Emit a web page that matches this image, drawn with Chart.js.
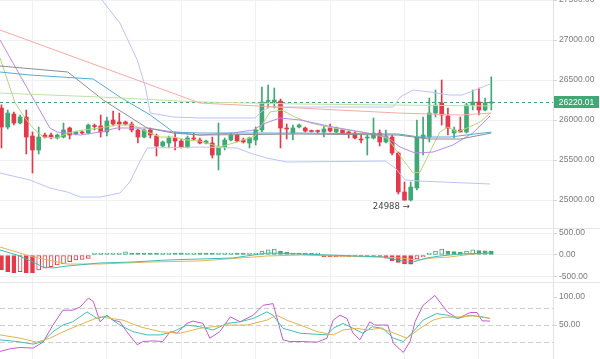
<!DOCTYPE html>
<html><head><meta charset="utf-8">
<script src="https://cdn.jsdelivr.net/npm/chart.js@4.4.1/dist/chart.umd.min.js"></script>
<style>
html,body{margin:0;padding:0;background:#fff;width:600px;height:359px;overflow:hidden;position:relative}
.pane{position:absolute;left:0;width:600px}
.sep{position:absolute;left:0;width:600px;height:1px;background:#e4e6ea}
</style></head><body>
<div class="pane" style="top:0;height:228px"><canvas id="main" width="600" height="228"></canvas></div>
<div class="sep" style="top:228px"></div>
<div class="pane" style="top:229px;height:53px"><canvas id="macd" width="600" height="53"></canvas></div>
<div class="sep" style="top:282px"></div>
<div class="pane" style="top:283px;height:76px"><canvas id="kdj" width="600" height="76"></canvas></div>
<script>
// ---------- candle data (index 0..79) ----------
const opens  = [26150,25912,26075,25962,26037,25800,25625,25812,25812,25775,25787,25900,25825,25850,25837,25931,25925,25850,26000,25975,25975,25950,25875,25787,25875,25800,25675,25712,25775,25737,25662,25775,25750,25712,25712,25562,25662,25750,25812,25750,25712,25750,25875,26231,26225,26237,25893,25837,25912,25900,25862,25862,25850,25900,25850,25875,25850,25837,25762,25775,25775,25837,25725,25787,25587,25100,25000,25150,25775,25787,26087,26212,26050,25837,25875,25850,26187,26225,26125,26212];
const highs  = [26190,26125,26100,26062,26125,25850,25912,25837,25837,25825,25962,25912,25862,25862,25950,25950,26062,26037,26112,26087,25987,25975,25887,25887,25900,25825,25737,25800,25850,25762,25800,25837,25775,25750,25787,25962,25775,25837,25825,25775,25787,25912,26412,26437,26400,26262,25950,25937,25950,25912,25875,25875,25925,25950,25912,25887,25862,25850,25812,25812,26025,25875,25875,25812,25600,25225,25225,26000,26037,26275,26375,26500,26150,25912,26037,26212,26375,26400,26275,26540];
const lows   = [25650,25887,25937,25950,25575,25337,25575,25775,25762,25762,25775,25762,25812,25825,25825,25875,25787,25800,25925,25875,25937,25850,25712,25775,25775,25550,25662,25650,25625,25650,25650,25750,25700,25700,25525,25375,25625,25737,25725,25712,25650,25687,25850,26150,26150,25650,25762,25750,25900,25850,25850,25837,25787,25850,25837,25825,25775,25762,25712,25562,25762,25675,25712,25562,25075,24995,24988,25125,25562,25725,26037,25937,25812,25775,25850,25837,26125,26062,26112,26125];
const closes = [25912,26087,25962,26037,25787,25625,25787,25787,25787,25812,25875,25812,25850,25837,25937,25919,25850,25987,25950,25950,25950,25875,25787,25875,25812,25675,25725,25775,25737,25662,25775,25762,25712,25737,25562,25662,25750,25812,25737,25725,25775,25875,26225,26237,26250,25900,25887,25900,25937,25862,25856,25856,25887,25862,25900,25837,25837,25775,25750,25787,25837,25725,25800,25587,25100,25000,25162,25787,25812,26087,26187,26062,25900,25875,25850,26187,26225,26125,26212,26220.01];

// ---------- overlay lines: [candle index, price] ----------
const maLongRed   = [[-0.24,27125],[32,26212],[48,26150],[64,26087],[74,26062],[79,26087]];
const maLongGreen = [[-0.24,26337],[16,26287],[32,26225],[48,26200],[64,26187],[79,26175]];
const bollMid     = [[-0.24,26675],[10.7,26600],[16.4,26250],[23.5,25900],[27.7,25837],[32,25812],[48,25825],[64,25812],[69,25762],[74,25762],[79,25837]];
const maBlue      = [[-0.24,26600],[4.6,26562],[14.8,26512],[19.1,26287],[24,26062],[27.7,25850],[32,25837],[48,25837],[64,25825],[67.5,25787],[72.3,25787],[79,25850]];
const maPurple    = [[-0.24,27000],[7.8,25900],[9,25850],[12.7,25812],[15.9,25850],[18.6,25900],[23.5,25900],[27.7,25850],[32,25812],[37.3,25837],[40.6,25875],[42.2,25950],[44.9,26025],[48.2,26000],[53.5,25912],[59,25837],[62.2,25787],[64.3,25662],[66.7,25587],[69.6,25600],[72.8,25687],[76,25837],[78.8,26050]];
const maShort     = [[-0.24,26775],[2.2,26212],[3.8,26025],[5.1,25900],[6.7,25787],[9,25775],[10.6,25837],[13.2,25875],[15.9,25900],[18.6,25937],[21.2,25937],[23.5,25850],[25.6,25787],[27.7,25787],[29.9,25750],[32,25737],[35.2,25662],[38.5,25737],[40.9,25800],[42,25937],[43.3,26100],[45.2,26125],[47.3,26037],[49.8,25962],[53.5,25900],[57,25862],[59.9,25825],[62.2,25775],[63.2,25675],[64.3,25550],[66.4,25337],[67.5,25350],[69.1,25600],[70.7,25850],[72,25912],[73.5,25850],[75.1,25900],[77.2,25975],[78.8,26087]];
const bollUpper   = [[14.3,27687],[16.2,27500],[19.1,27212],[21.9,26750],[23.2,26412],[24,26087],[27.7,26037],[32,26025],[40.9,26025],[42,26112],[43.3,26162],[63.2,26162],[64.3,26287],[66.4,26375],[69.1,26350],[72.3,26312],[74.3,26312],[75.6,26350],[78.8,26450]];
const bollLower   = [[-0.24,25337],[4.6,25250],[7.8,25150],[10.6,25100],[12.7,25037],[15.9,25037],[19.1,25087],[20.7,25225],[22.3,25475],[23.5,25650],[32,25662],[38,25650],[40.1,25587],[42.8,25525],[46,25475],[61.9,25487],[63.5,25400],[65.1,25250],[67.5,25237],[78.8,25200]];

// ---------- MACD ----------
const macdHist = [-341,-380,-400,-380,-400,-405,-340,-300,-265,-227,-205,-150,-114,-98,-76,15,20,25,35,45,70,40,20,15,12,10,15,18,12,10,15,18,14,12,10,14,16,20,18,15,22,45,90,120,136,90,60,40,20,15,10,12,-15,-20,-25,-20,-25,-30,-25,-30,-35,-40,-70,-130,-170,-205,-210,-90,-40,35,90,136,90,75,60,90,115,100,95,90];
const macdDif = [[-0.24,114],[2.5,0],[5.1,-159],[6.7,-273],[8.3,-295],[10.6,-250],[15.9,-182],[21.2,-159],[26.7,-114],[37.3,-68],[42.8,45],[48.2,23],[61.5,-45],[63.8,-114],[65.4,-159],[66.4,-159],[68.6,-68],[70.7,-23],[74,23],[78.8,45]];
const macdDea = [[-0.24,182],[5.1,-45],[10.6,-205],[15.9,-205],[24,-159],[32,-136],[42.8,-23],[48.2,0],[53.5,-23],[61.5,-45],[64.3,-68],[67,-114],[69.6,-68],[72.3,-45],[76,23],[78.8,45]];

// ---------- oscillator ----------
const oscFast = [[-0.24,2.8],[1.4,7.6],[3,9.9],[5.1,8.8],[6.7,19.4],[8.3,49.9],[9.9,76.4],[11.5,76.4],[12.7,82.2],[14,98.1],[14.8,92.2],[15.9,55.7],[17,67.5],[18,58.7],[19.1,55.7],[20.2,38.1],[21.9,14.6],[22.8,20.5],[24.4,21.7],[26,20.5],[27.2,38.1],[28.3,35.3],[29.9,52.9],[30.9,57],[32.5,52.9],[33.6,26.5],[35.2,38.1],[36.9,64.6],[38.5,55.7],[40.6,67.5],[42.2,85.2],[43.8,88.2],[45.4,23.5],[46.5,20.5],[48.2,20.5],[50.9,19.4],[52.5,26.5],[53.5,58.7],[54.6,67.5],[55.7,61.7],[56.7,35.3],[57.8,23.5],[59.4,55.7],[60.2,49.9],[62.3,49.9],[63.2,17.6],[64.8,1.1],[65.9,20.5],[66.7,55.7],[68,85.2],[69.9,102.8],[71.9,73.4],[73.6,61.7],[75.6,72.3],[76.7,72.3],[77.5,57.5],[78.8,57]];
const oscMid = [[-0.24,23.5],[2.5,20.5],[5.1,15.9],[6.7,20.5],[8.3,38.1],[9.9,49.9],[11.5,55.7],[13.8,73.4],[15.4,61.7],[17,66.3],[19.1,49.9],[21.2,38.1],[23.5,32.3],[25.6,32.3],[27.7,38.1],[29.9,49.9],[32,46.9],[34.1,41.1],[36.4,52.9],[38.5,55.7],[40.6,61.7],[42.8,73.4],[43.8,67.5],[45.4,44.1],[48.2,35.3],[52.5,32.3],[53.5,44.1],[55.1,52.9],[56.7,44.1],[58.3,35.3],[59.8,46.9],[61.5,44.1],[63.2,26.5],[64.8,20.5],[66.4,38.1],[68,58.7],[70.2,70.5],[71.9,67.5],[73.6,61.7],[75.6,67.5],[77.5,64.6],[78.8,61.7]];
const oscSlow = [[-0.24,32.3],[3,26.5],[5.7,19.4],[7.8,26.5],[10.6,41.1],[13.8,55.7],[15.9,64.6],[19.6,58.7],[22.3,46.9],[25.6,38.1],[28.8,35.3],[32,44.1],[36.4,49.9],[39.6,49.9],[42.8,58.7],[44.4,67.5],[46,58.7],[48.2,49.9],[50.9,38.1],[53.5,32.3],[55.1,41.1],[57.3,44.1],[59,41.1],[61,44.1],[62.7,38.1],[65.4,26.5],[67.5,44.1],[69.6,58.7],[71.2,63.5],[74,64.6],[76,66.3],[78.8,61.7]];
const oscLevels = [20, 50, 80];

// ---------- axes ----------
const gridIdx    = [5, 17, 29, 41, 53, 65, 77];
const priceTicks = [25000, 25500, 26000, 26500, 27000, 27500];
const macdTicks  = [500, 0, -500];
const oscTicks   = [50, 100];

const GREEN = '#3fa874', RED = '#e23a4b';
const GRID = '#eef0f4';
const FONT = {size: 8.5, family: "'Liberation Sans', Arial, sans-serif"};
const X_MIN = -0.24, X_MAX = 88.95;

function xScale(){
  return {type:'linear', min:X_MIN, max:X_MAX, offset:false,
    ticks:{display:false}, border:{display:false},
    grid:{color:GRID, drawTicks:false, offset:false},
    afterBuildTicks: s => { s.ticks = gridIdx.map(v => ({value:v})); },
    afterFit: s => { s.height = 0; s.paddingLeft = 0; s.paddingRight = 0; }
  };
}
function yScale(min, max, ticks, showGrid){
  return {type:'linear', position:'right', min, max, beginAtZero:false,
    ticks:{color:'#7b7b7b', font:FONT, padding:2, callback: v => Number(v).toFixed(2)},
    grid:{display:true, color: showGrid ? GRID : 'rgba(0,0,0,0)', tickLength:4, tickColor:'#cfd2d6'},
    border:{display:true, color:'#e0e2e6'},
    afterBuildTicks: s => { s.ticks = ticks.map(v => ({value:v})); },
    afterFit: s => { s.width = 47; s.paddingTop = 0; s.paddingBottom = 0; }
  };
}
function lineDs(pts, color){
  return {type:'line', data: pts.map(([x,y]) => ({x, y})), borderColor: color, borderWidth: 1,
    pointRadius: 0, fill: false, tension: 0, order: 1};
}
const baseOpts = {responsive:false, animation:false, devicePixelRatio:1,
  layout:{padding:0}, plugins:{legend:{display:false}, tooltip:{enabled:false}}, events:[]};

// ---------- main chart ----------
const idx = opens.map((_, i) => i);
const candleColor = idx.map(i => closes[i] >= opens[i] ? GREEN : RED);
const lastPrice = closes[closes.length - 1];

const priceMarks = {
  id:'priceMarks',
  beforeDatasetsDraw(c){
    const ctx = c.ctx, a = c.chartArea;
    const y = Math.round(c.scales.y.getPixelForValue(lastPrice)) + 0.5;
    ctx.save(); ctx.strokeStyle = GREEN; ctx.lineWidth = 1; ctx.setLineDash([3,3]);
    ctx.beginPath(); ctx.moveTo(a.left, y); ctx.lineTo(a.right, y); ctx.stroke(); ctx.restore();
  },
  afterDraw(c){
    const ctx = c.ctx, a = c.chartArea;
    const y = c.scales.y.getPixelForValue(lastPrice);
    ctx.save();
    ctx.fillStyle = GREEN; ctx.fillRect(a.right + 1, Math.round(y) - 6, 45, 12);
    ctx.fillStyle = '#fff'; ctx.font = "8.5px 'Liberation Sans', Arial, sans-serif";
    ctx.textAlign = 'center'; ctx.textBaseline = 'middle';
    ctx.fillText(lastPrice.toFixed(2), a.right + 23.5, Math.round(y) + 0.5);
    // lowest low marker
    let li = 0; lows.forEach((v, i) => { if (v < lows[li]) li = i; });
    const lx = c.scales.x.getPixelForValue(li), ly = c.scales.y.getPixelForValue(lows[li]);
    ctx.fillStyle = '#444'; ctx.textAlign = 'right';
    ctx.font = "8.5px 'DejaVu Sans', sans-serif";
    ctx.fillText(String(lows[li]) + ' \u2192', lx - 1, ly + 6);
    ctx.restore();
  }
};

new Chart(document.getElementById('main'), {
  type:'bar',
  data:{datasets:[
    lineDs(maLongRed, '#f5aaa4'),
    lineDs(maLongGreen, '#c0e0a8'),
    lineDs(bollUpper, '#bcc4f1'),
    lineDs(bollLower, '#bcc4f1'),
    lineDs(bollMid, '#8e8e8e'),
    lineDs(maBlue, '#52acd3'),
    lineDs(maPurple, '#bb8ae4'),
    lineDs(maShort, '#b0d676'),
    {type:'bar', data: idx.map(i => ({x:i, y:[opens[i], closes[i]]})), backgroundColor: candleColor,
      barThickness:4, minBarLength:1, grouped:false, order:2},
    {type:'bar', data: idx.map(i => ({x:i, y:[lows[i], highs[i]]})), backgroundColor: candleColor,
      barThickness:1, grouped:false, order:3}
  ]},
  options:{...baseOpts, scales:{x:xScale(), y:yScale(24650, 27500, priceTicks, true)}},
  plugins:[priceMarks]
});

// ---------- MACD ----------
const histColor = macdHist.map(v => v >= 0 ? GREEN : RED);
const histFill = macdHist.map((v, i) => (i > 0 && v >= macdHist[i-1]) ? '#ffffff' : histColor[i]);
new Chart(document.getElementById('macd'), {
  type:'bar',
  data:{datasets:[
    lineDs(macdDif, '#3dbdb2'),
    lineDs(macdDea, '#e6b45a'),
    {type:'bar', data: macdHist.map((v, i) => ({x:i, y:v})), backgroundColor: histFill, borderColor: histColor,
      borderWidth:1, borderSkipped:false, barThickness:4, minBarLength:2, grouped:false, order:2}
  ]},
  options:{...baseOpts, scales:{x:xScale(), y:yScale(-614, 591, macdTicks, true)}}
});

// ---------- oscillator ----------
const levelLines = {
  id:'levelLines',
  beforeDatasetsDraw(c){
    const ctx = c.ctx, a = c.chartArea;
    ctx.save(); ctx.strokeStyle = '#cfcfcf'; ctx.lineWidth = 1; ctx.setLineDash([5,3]);
    oscLevels.forEach(v => {
      const y = Math.round(c.scales.y.getPixelForValue(v)) + 0.5;
      ctx.beginPath(); ctx.moveTo(a.left, y); ctx.lineTo(a.right, y); ctx.stroke();
    });
    ctx.restore();
  }
};
new Chart(document.getElementById('kdj'), {
  type:'line',
  data:{datasets:[
    lineDs(oscSlow, '#e2b44a'),
    lineDs(oscMid, '#3fc0b2'),
    lineDs(oscFast, '#c25bd2')
  ]},
  options:{...baseOpts, scales:{x:xScale(), y:yScale(-10.7, 125, oscTicks, false)}},
  plugins:[levelLines]
});
</script>
</body></html>
